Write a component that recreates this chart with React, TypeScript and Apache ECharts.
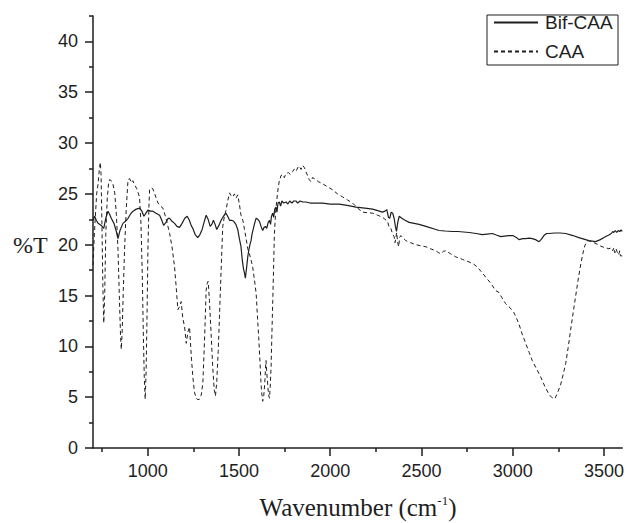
import React, { useEffect, useRef } from "react";
import * as echarts from "echarts";

const bifWavenumbers = [
  700, 709, 718, 728, 745, 759, 770, 782, 791, 800, 815, 828, 837, 848, 864, 878, 892, 905, 919, 937,
  955, 968, 979, 990, 1001, 1015, 1028, 1045, 1065, 1077, 1087, 1100, 1112, 1120, 1133, 1147, 1160, 1174, 1188, 1203,
  1216, 1228, 1238, 1247, 1260, 1274, 1286, 1298, 1310, 1320, 1331, 1342, 1351, 1360, 1369, 1378, 1390, 1402, 1415, 1429,
  1438, 1448, 1460, 1471, 1483, 1493, 1502, 1511, 1518, 1524, 1530, 1535, 1542, 1548, 1554, 1560, 1566, 1572, 1579, 1587,
  1594, 1603, 1612, 1621, 1630, 1637, 1645, 1652, 1660, 1667, 1673, 1678, 1685, 1690, 1696, 1703, 1708, 1714, 1721, 1728,
  1735, 1745, 1758, 1768, 1778, 1790, 1800, 1812, 1822, 1835, 1850, 1867, 1890, 1920, 1958, 2000, 2049, 2100, 2141, 2190,
  2232, 2260, 2286, 2300, 2310, 2319, 2326, 2334, 2342, 2350, 2357, 2363, 2370, 2378, 2392, 2410, 2432, 2460, 2487, 2515,
  2542, 2570, 2596, 2630, 2669, 2700, 2730, 2761, 2800, 2833, 2860, 2888, 2910, 2934, 2955, 2979, 3000, 3020, 3034, 3055,
  3071, 3090, 3107, 3125, 3144, 3155, 3171, 3185, 3198, 3230, 3260, 3290, 3330, 3362, 3390, 3417, 3454, 3480, 3500, 3515,
  3527, 3540, 3548, 3554, 3562, 3570, 3578, 3586, 3594, 3600,
];
const bifTransmittance = [
  22.4, 22.8, 22.4, 22.1, 21.9, 21.6, 22.6, 23.3, 23.0, 22.6, 22.1, 21.3, 20.6, 21.4, 22.1, 22.3, 22.6, 23.0, 23.3, 23.5,
  23.6, 23.3, 22.8, 23.1, 23.4, 23.3, 23.3, 23.1, 22.9, 22.4, 21.9, 22.2, 22.6, 22.6, 22.3, 22.1, 21.8, 21.7, 22.1, 22.6,
  22.8, 22.4, 21.9, 21.6, 21.0, 20.7, 21.0, 21.5, 22.3, 22.9, 22.5, 21.8, 22.0, 22.4, 22.0, 21.5, 21.9, 22.4, 22.8, 23.1,
  22.8, 22.4, 22.4, 22.3, 22.0, 21.5, 20.6, 19.8, 18.5, 17.7, 17.2, 16.7, 17.8, 18.8, 19.5, 20.0, 20.4, 21.1, 21.6, 22.2,
  22.6, 22.5, 22.3, 21.8, 21.4, 21.7, 21.8, 21.6, 22.2, 22.4, 22.0, 22.8, 23.1, 22.7, 23.5, 23.7, 23.2, 24.1, 24.2, 23.8,
  24.3, 24.1, 24.2, 24.0, 24.3, 24.1, 24.3, 24.3, 24.1, 24.3, 24.2, 24.2, 24.1, 24.1, 24.1, 24.0, 24.0, 23.85, 23.7, 23.6,
  23.5, 23.35, 23.2, 23.3, 23.45, 22.7, 22.6, 23.2, 23.1, 22.6, 21.8, 21.3, 22.2, 22.8, 22.6, 22.4, 22.2, 22.1, 22.0, 21.85,
  21.7, 21.55, 21.4, 21.35, 21.3, 21.3, 21.25, 21.2, 21.1, 21.0, 21.05, 21.1, 20.95, 20.8, 20.85, 20.9, 20.9, 20.7, 20.5, 20.6,
  20.6, 20.65, 20.6, 20.5, 20.3, 20.5, 20.9, 21.1, 21.1, 21.15, 21.15, 21.1, 20.9, 20.7, 20.55, 20.4, 20.3, 20.5, 20.7, 20.85,
  20.95, 21.1, 21.3, 21.2, 21.4, 21.2, 21.4, 21.3, 21.45, 21.3,
];

const caaWavenumbers = [
  700, 706, 712, 720, 728, 735, 740, 744, 749, 754, 759, 764, 770, 778, 785, 791, 800, 810, 819, 828,
  837, 845, 851, 855, 860, 866, 873, 882, 892, 901, 910, 918, 928, 940, 955, 963, 970, 976, 981, 986,
  991, 996, 1001, 1006, 1010, 1019, 1028, 1042, 1056, 1070, 1083, 1100, 1120, 1133, 1147, 1156, 1165, 1174, 1183, 1192,
  1202, 1211, 1220, 1229, 1238, 1247, 1256, 1265, 1275, 1284, 1293, 1302, 1311, 1320, 1326, 1331, 1338, 1347, 1356, 1364,
  1371, 1378, 1386, 1393, 1402, 1411, 1420, 1429, 1438, 1448, 1457, 1466, 1475, 1484, 1493, 1502, 1511, 1521, 1530, 1539,
  1548, 1557, 1566, 1575, 1585, 1594, 1601, 1608, 1615, 1621, 1626, 1630, 1636, 1641, 1645, 1648, 1652, 1657, 1662, 1667,
  1671, 1676, 1680, 1685, 1690, 1694, 1700, 1707, 1714, 1721, 1726, 1730, 1740, 1748, 1758, 1770, 1782, 1794, 1805, 1815,
  1825, 1831, 1840, 1848, 1858, 1866, 1876, 1885, 1894, 1903, 1913, 1935, 1958, 1985, 2013, 2040, 2068, 2095, 2122, 2150,
  2177, 2205, 2232, 2260, 2286, 2300, 2314, 2323, 2332, 2341, 2350, 2355, 2359, 2364, 2369, 2375, 2380, 2387, 2400, 2414,
  2440, 2469, 2495, 2524, 2550, 2578, 2595, 2606, 2620, 2633, 2660, 2688, 2725, 2761, 2785, 2806, 2830, 2852, 2880, 2906,
  2925, 2940, 2961, 2985, 3007, 3020, 3034, 3050, 3071, 3090, 3107, 3130, 3153, 3175, 3198, 3215, 3231, 3245, 3262, 3276,
  3290, 3304, 3317, 3331, 3344, 3358, 3372, 3384, 3395, 3405, 3414, 3430, 3445, 3468, 3490, 3510, 3527, 3540, 3548, 3554,
  3560, 3566, 3572, 3580, 3586, 3590, 3600,
];
const caaTransmittance = [
  18.0, 20.5, 22.5, 25.0, 26.0, 27.5, 28.1, 27.0, 22.0, 16.0, 12.3, 15.0, 21.0, 24.5, 26.0, 26.4, 26.3, 25.9, 25.1, 23.0,
  19.5, 14.5, 11.0, 9.7, 11.5, 15.5, 19.5, 23.5, 26.4, 26.5, 26.1, 26.3, 25.9, 25.5, 24.7, 22.0, 17.0, 11.0, 7.0, 4.8,
  7.5, 13.0, 19.5, 23.5, 25.4, 25.6, 25.5, 24.8, 24.1, 23.8, 23.6, 22.6, 21.1, 19.8, 17.8, 15.8, 13.6, 13.9, 14.4, 12.8,
  11.9, 10.3, 11.4, 11.9, 9.2, 7.0, 5.5, 4.9, 4.75, 4.8, 5.2, 6.4, 10.5, 15.5, 16.2, 16.4, 14.5, 11.3, 8.0, 5.8,
  5.1, 6.5, 9.5, 12.9, 17.5, 21.8, 22.8, 23.4, 24.3, 25.1, 24.8, 24.7, 25.0, 24.6, 24.9, 24.0, 22.9, 22.4, 21.5, 20.6,
  19.6, 19.1, 18.5, 17.8, 16.5, 15.2, 13.0, 10.9, 8.5, 6.3, 5.2, 4.6, 5.2, 6.3, 7.8, 8.6, 7.5, 6.3, 5.2, 4.9,
  6.0, 8.0, 11.0, 14.5, 18.0, 21.1, 23.0, 24.4, 25.5, 26.3, 26.5, 26.8, 26.9, 26.6, 27.0, 27.1, 26.9, 27.2, 27.5, 27.3,
  27.7, 27.7, 27.4, 27.8, 27.6, 27.2, 26.8, 26.4, 26.2, 26.6, 26.5, 26.2, 26.0, 25.7, 25.4, 25.0, 24.7, 24.4, 24.1, 23.6,
  23.2, 23.15, 23.1, 22.9, 22.7, 22.5, 22.3, 21.7, 21.6, 21.1, 20.8, 20.2, 20.6, 21.2, 20.3, 19.8, 20.7, 20.9, 20.65, 20.4,
  20.2, 20.0, 19.9, 19.8, 19.6, 19.4, 19.2, 19.1, 19.35, 19.4, 19.1, 18.8, 18.55, 18.3, 18.1, 17.8, 17.3, 16.8, 16.2, 15.5,
  15.3, 14.8, 14.2, 13.8, 13.3, 12.8, 12.2, 11.3, 10.3, 9.4, 8.6, 7.8, 7.0, 6.1, 5.3, 4.95, 4.85, 5.4, 6.2, 7.2,
  8.3, 9.9, 11.6, 13.3, 14.85, 16.5, 18.0, 19.1, 19.9, 20.25, 20.4, 20.3, 20.2, 20.0, 19.8, 19.7, 19.6, 19.7, 19.4, 19.7,
  19.2, 19.6, 19.3, 19.0, 19.4, 18.9, 18.9,
];

const seriesNames = ["Bif-CAA", "CAA"];
const xMajorTicks = [1000, 1500, 2000, 2500, 3000, 3500];
const xMinorTicks = [750, 1250, 1750, 2250, 2750, 3250];
const yMajorTicks = [0, 5, 10, 15, 20, 25, 30, 35, 40];
const yMinorTicks = [2.5, 7.5, 12.5, 17.5, 22.5, 27.5, 32.5, 37.5, 42.5];

const INK = "#1e1e1e";

export default function App() {
  const ref = useRef<HTMLDivElement>(null);

  useEffect(() => {
    if (!ref.current) return;
    const chart = echarts.init(ref.current, undefined, { renderer: "svg" });
    const tickLine = { color: INK, width: 1.5 };
    const labelStyle = {
      fontSize: 18,
      color: INK,
      fontFamily: "Liberation Sans, Arial, sans-serif",
    };
    chart.setOption({
      animation: false,
      backgroundColor: "#ffffff",
      grid: { left: 93, right: 4, top: 16, bottom: 75, containLabel: false },
      legend: {
        data: seriesNames,
        orient: "vertical",
        left: 493,
        top: 13,
        padding: 0,
        itemGap: 10,
        itemWidth: 44,
        itemHeight: 15,
        itemStyle: { opacity: 0 },
        textStyle: {
          fontSize: 19,
          color: INK,
          fontFamily: "Liberation Sans, Arial, sans-serif",
          lineHeight: 18,
          padding: [0, 0, 0, 2],
        },
      },
      xAxis: [
        {
          type: "value",
          min: 700,
          max: 3600,
          position: "bottom",
          axisLine: { show: true, lineStyle: tickLine },
          axisTick: { show: true, length: 8, customValues: xMajorTicks, lineStyle: tickLine },
          axisLabel: {
            ...labelStyle,
            customValues: xMajorTicks,
            margin: 14,
            formatter: (v: number) => String(v),
          },
          splitLine: { show: false },
        },
        {
          type: "value",
          min: 700,
          max: 3600,
          position: "bottom",
          offset: 0,
          axisLine: { show: false },
          axisTick: { show: true, length: 4, customValues: xMinorTicks, lineStyle: tickLine },
          axisLabel: { show: false },
          splitLine: { show: false },
        },
      ],
      yAxis: [
        {
          type: "value",
          min: 0,
          max: 42.5,
          position: "left",
          axisLine: { show: true, lineStyle: tickLine },
          axisTick: { show: true, length: 8, customValues: yMajorTicks, lineStyle: tickLine },
          axisLabel: {
            ...labelStyle,
            customValues: yMajorTicks,
            margin: 15,
            formatter: (v: number) => String(v),
          },
          splitLine: { show: false },
        },
        {
          type: "value",
          min: 0,
          max: 42.5,
          position: "left",
          offset: 0,
          axisLine: { show: false },
          axisTick: { show: true, length: 4, customValues: yMinorTicks, lineStyle: tickLine },
          axisLabel: { show: false },
          splitLine: { show: false },
        },
      ],
      graphic: [
        {
          type: "rect",
          shape: { x: 487, y: 15, width: 131, height: 50 },
          style: { fill: "none", stroke: INK, lineWidth: 1 },
        },
        {
          type: "text",
          x: 13,
          y: 245,
          style: {
            text: "%T",
            fontSize: 24,
            fontFamily: "Liberation Serif, Times New Roman, serif",
            fill: INK,
            verticalAlign: "middle",
            align: "left",
          },
        },
        {
          type: "text",
          x: 358,
          y: 507,
          style: {
            text: "{n|Wavenumber (cm}{s|-1}{n|)}",
            fill: INK,
            align: "center",
            verticalAlign: "middle",
            rich: {
              n: {
                fontSize: 25,
                fontFamily: "Liberation Serif, Times New Roman, serif",
                fill: INK,
                lineHeight: 26,
                verticalAlign: "bottom",
              },
              s: {
                fontSize: 13,
                fontFamily: "Liberation Serif, Times New Roman, serif",
                fill: INK,
                lineHeight: 26,
                verticalAlign: "top",
              },
            },
          },
        },
      ],
      series: [
        {
          name: seriesNames[0],
          type: "line",
          xAxisIndex: 0,
          yAxisIndex: 0,
          symbol: "none",
          data: bifWavenumbers.map((w, i) => [w, bifTransmittance[i]]),
          lineStyle: { color: INK, width: 1.2, type: "solid" },
          itemStyle: { color: INK },
          z: 3,
        },
        {
          name: seriesNames[1],
          type: "line",
          xAxisIndex: 0,
          yAxisIndex: 0,
          symbol: "none",
          data: caaWavenumbers.map((w, i) => [w, caaTransmittance[i]]),
          lineStyle: { color: INK, width: 1, type: [4, 3] },
          itemStyle: { color: INK },
          z: 2,
        },
      ],
    });
    return () => chart.dispose();
  }, []);

  return (
    <div
      ref={ref}
      style={{ position: "fixed", left: 0, top: 0, width: 627, height: 523, background: "#fff" }}
    />
  );
}
